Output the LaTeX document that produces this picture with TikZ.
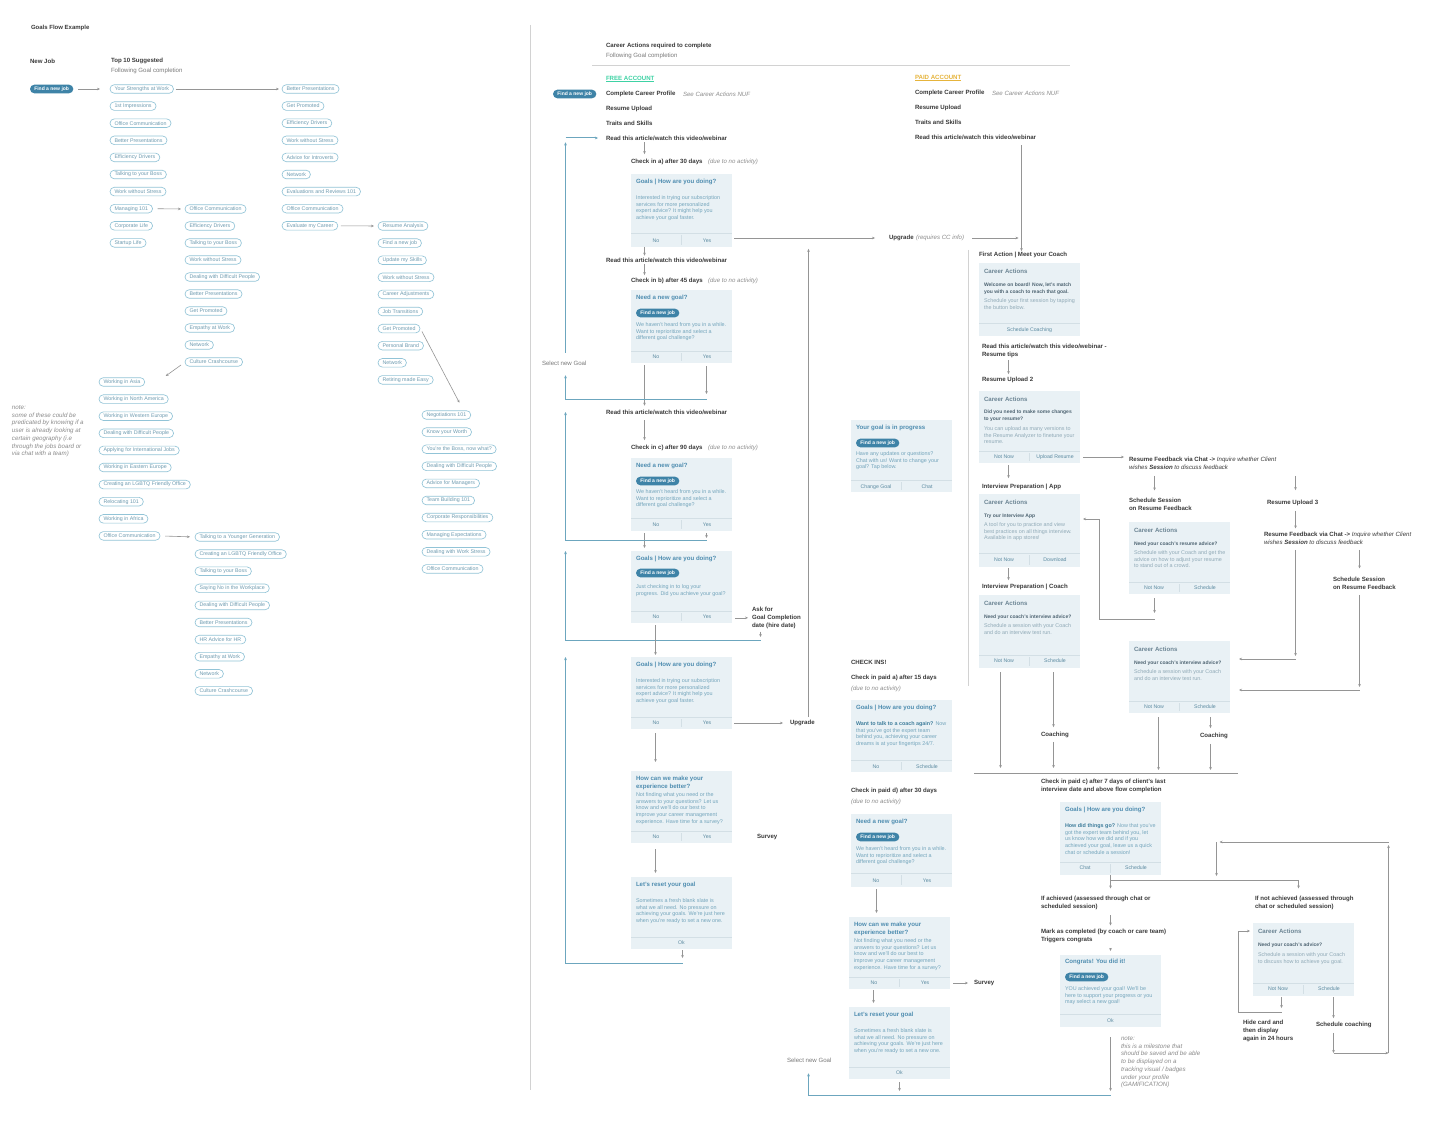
\documentclass[tikz,border=0pt]{standalone}
\usepackage{fontspec}
\setmainfont{Liberation Sans}
\usetikzlibrary{arrows.meta,fit,calc}
\definecolor{cardC}{HTML}{E9F1F5}
\definecolor{divC}{HTML}{D3DFE5}
\definecolor{labC}{HTML}{3A3A3A}
\definecolor{grayT}{HTML}{7A7A7A}
\definecolor{italC}{HTML}{8C8C8C}
\definecolor{titleC}{HTML}{4F8DB0}
\definecolor{bodyC}{HTML}{72A4BB}
\definecolor{tealD}{HTML}{3F7E9C}
\definecolor{pTitleC}{HTML}{6C8594}
\definecolor{pBoldC}{HTML}{4E6472}
\definecolor{pLightC}{HTML}{8FA9B6}
\definecolor{btnC}{HTML}{5B8AA0}
\definecolor{arrC}{HTML}{959595}
\definecolor{loopC}{HTML}{6CA6BE}
\definecolor{pillB}{HTML}{92C4D7}
\definecolor{pillT}{HTML}{6E9BB0}
\definecolor{pillD}{HTML}{3E83A7}
\definecolor{freeC}{HTML}{3ED2A4}
\definecolor{paidC}{HTML}{E6B43C}
\definecolor{sepC}{HTML}{D2D2D2}
\tikzset{
 every node/.style={inner sep=0pt,outer sep=0pt},
 lb/.style={anchor=west,text=labC,font=\fontsize{6.1}{8}\selectfont\bfseries},
 lbm/.style={anchor=north west,align=left,text=labC,font=\fontsize{6.1}{8}\selectfont\bfseries},
 lr/.style={anchor=west,text=grayT,font=\fontsize{6.1}{8}\selectfont},
 li/.style={anchor=west,text=italC,font=\fontsize{6.1}{8}\selectfont\itshape},
 nt/.style={anchor=north west,align=left,text=italC,font=\fontsize{6.2}{7.7}\selectfont\itshape},
 ttl/.style={anchor=west,text=titleC,font=\fontsize{6.1}{7.8}\selectfont\bfseries},
 ttlm/.style={anchor=north west,align=left,text=titleC,font=\fontsize{6.1}{7.8}\selectfont\bfseries},
 pttl/.style={anchor=west,text=pTitleC,font=\fontsize{6.1}{7.8}\selectfont\bfseries},
 bdy/.style={anchor=north west,align=left,text=bodyC,font=\fontsize{5.4}{6.7}\selectfont},
 pbold/.style={anchor=north west,align=left,text=pBoldC,font=\fontsize{5}{6.9}\selectfont\bfseries},
 plight/.style={anchor=north west,align=left,text=pLightC,font=\fontsize{5.4}{6.7}\selectfont},
 btn/.style={text=btnC,font=\fontsize{5.2}{6}\selectfont},
 pill/.style={anchor=west,draw=pillB,line width=0.65pt,rounded corners=4.3pt,minimum height=8.6pt,inner xsep=4.5pt,text=pillT,font=\fontsize{5.3}{6}\selectfont},
 dpill/.style={anchor=west,fill=pillD,rounded corners=4.3pt,minimum height=8.6pt,inner xsep=4.3pt,text=white,font=\fontsize{5}{6}\selectfont\bfseries},
 divl/.style={draw=divC,line width=0.6pt},
 arr/.style={draw=arrC,line width=0.6pt,-{Stealth[length=3pt,width=2.6pt]}},
 line/.style={draw=arrC,line width=0.6pt},
 loopa/.style={draw=loopC,line width=1pt,-{Stealth[length=3.2pt,width=2.8pt]}},
 sepl/.style={draw=sepC,line width=0.9pt},
}
\newcommand\mkcard[5]{%
  \node[fit={(#2,#3)(#2+101,#4)},fill=cardC] (#1) {};
  \draw[divl] (#2,#5) -- (#2+101,#5);}
\newcommand\twobtn[7]{%
  \draw[divl] (#2+50.5,#3+2) -- (#2+50.5,#4-2);
  \node[btn] (#1L) at (#2+25,#5) {#6};
  \node[btn] (#1R) at (#2+76,#5) {#7};}
\newcommand\onebtn[4]{\node[btn] (#1) at (#2+50.5,#3) {#4};}
\begin{document}
\begin{tikzpicture}[x=1pt,y=-1pt]
\useasboundingbox (0,0) rectangle (1450,1131);
\fill[white] (0,0) rectangle (1450,1131);

%% ---------------- left section
\node[lb,font=\fontsize{6}{8}\selectfont\bfseries] (gfe) at (31,28) {Goals Flow Example};
\node[lb] (newjob) at (30,61) {New Job};
\node[lb] (top10) at (111,61) {Top 10 Suggested};
\node[lr] (top10b) at (111,71) {Following Goal completion};
\node[dpill] (fj0) at (30,89) {Find a new job};

\foreach \txt [count=\i] in {Your Strengths at Work,1st Impressions,Office Communication,Better Presentations,Efficiency Drivers,Talking to your Boss,Work without Stress,Managing 101,Corporate Life,Startup Life}
  \node[pill] (pA\i) at (110,{89+(\i-1)*17.1}) {\txt};
\foreach \txt [count=\i] in {Office Communication,Efficiency Drivers,Talking to your Boss,Work without Stress,Dealing with Difficult People,Better Presentations,Get Promoted,Empathy at Work,Network,Culture Crashcourse}
  \node[pill] (pB\i) at (185,{209+(\i-1)*17.0}) {\txt};
\foreach \txt [count=\i] in {Better Presentations,Get Promoted,Efficiency Drivers,Work without Stress,Advice for Introverts,Network,Evaluations and Reviews 101,Office Communication,Evaluate my Career}
  \node[pill] (pC\i) at (282,{89+(\i-1)*17.1}) {\txt};
\foreach \txt [count=\i] in {Resume Analysis,Find a new job,Update my Skills,Work without Stress,Career Adjustments,Job Transitions,Get Promoted,Personal Brand,Network,Retiring made Easy}
  \node[pill] (pD\i) at (378,{226+(\i-1)*17.1}) {\txt};
\foreach \txt [count=\i] in {Working in Asia,Working in North America,Working in Western Europe,Dealing with Difficult People,Applying for International Jobs,Working in Eastern Europe,Creating an LGBTQ Friendly Office,Relocating 101,Working in Africa,Office Communication}
  \node[pill] (pE\i) at (99,{382+(\i-1)*17.1}) {\txt};
\foreach \txt [count=\i] in {Talking to a Younger Generation,Creating an LGBTQ Friendly Office,Talking to your Boss,Saying No in the Workplace,Dealing with Difficult People,Better Presentations,HR Advice for HR,Empathy at Work,Network,Culture Crashcourse}
  \node[pill] (pF\i) at (195,{537+(\i-1)*17.1}) {\txt};
\foreach \txt [count=\i] in {Negotiations 101,Know your Worth,{You're the Boss, now what?},Dealing with Difficult People,Advice for Managers,Team Building 101,Corporate Responsibilities,Managing Expectations,Dealing with Work Stress,Office Communication}
  \node[pill] (pG\i) at (422,{415+(\i-1)*17.1}) {\txt};

\draw[arr,shorten <=5pt,shorten >=10pt] (fj0.east) -- (pA1.west);
\draw[arr,shorten <=2pt,shorten >=3pt] (pA1.east) -- (pC1.west);
\draw[arr,shorten <=5pt,shorten >=4pt] (pA8.east) -- (pB1.west);
\draw[arr,shorten <=3pt,shorten >=4pt] (pC9.east) -- (pD1.west);
\draw[arr,shorten <=5pt,shorten >=5pt] (pE10.east) -- (pF1.west);
\draw[arr] ($(pB10.west)+(-4,3)$) -- ($(pE1.east)+(21,-6)$);
\draw[arr] ($(pD7.east)+(2,3)$) -- ($(pG1.north)+(13,-8)$);

\node[nt] (note1) at (12,405.5) {note:\\some of these could be\\predicated by knowing if a\\user is already looking at\\certain geography (i.e\\through the jobs board or\\via chat with a team)};

\draw[sepl] (530,25) -- (530,1090);

%% ---------------- free account column
\node[lb] (cat) at (606,46) {Career Actions required to complete};
\node[lr] (catb) at (606,56) {Following Goal completion};
\draw[sepl,line width=0.6pt] (592,65) -- (1070,65);
\node[lb,text=freeC] (free) at (606,79) {\underline{FREE ACCOUNT}};
\node[dpill] (fj1) at (553,94) {Find a new job};
\node[lb] (ccp1) at (606,94) {Complete Career Profile};
\node[li] (nuf1) at (683,94) {See Career Actions NUF};
\node[lb] (ru1) at (606,109) {Resume Upload};
\node[lb] (ts1) at (606,123) {Traits and Skills};
\node[lb] (readA) at (606,138) {Read this article/watch this video/webinar};
\node[lb] (checkA) at (631,162) {Check in a) after 30 days};
\node[li] (dueA) at (708,162) {(due to no activity)};

\mkcard{cardA}{631}{174}{247}{233}
\node[ttl] (aT) at (636,182) {Goals | How are you doing?};
\node[bdy] (aB) at (636,195.5) {Interested in trying our subscription\\services for more personalized\\expert advice? It might help you\\achieve your goal faster.};
\twobtn{a}{631}{233}{247}{241}{No}{Yes}

\node[lb] (readB) at (606,260) {Read this article/watch this video/webinar};
\node[lb] (checkB) at (631,281) {Check in b) after 45 days};
\node[li] (dueB) at (708,281) {(due to no activity)};
\mkcard{cardB}{631}{290}{363}{351}
\node[ttl] (bT) at (636,298) {Need a new goal?};
\node[dpill] (bP) at (636,313) {Find a new job};
\node[bdy] (bB) at (636,322.5) {We haven't heard from you in a while.\\Want to reprioritize and select a\\different goal challenge?};
\twobtn{b}{631}{351}{363}{357}{No}{Yes}

\node[lr] (sel1) at (542,363) {Select new Goal};
\node[lb] (readC) at (606,412) {Read this article/watch this video/webinar};
\node[lb] (checkC) at (631,448) {Check in c) after 90 days};
\node[li] (dueC) at (708,448) {(due to no activity)};
\mkcard{cardC}{631}{458}{531}{518}
\node[ttl] (cT) at (636,466) {Need a new goal?};
\node[dpill] (cP) at (636,481) {Find a new job};
\node[bdy] (cB) at (636,489.5) {We haven't heard from you in a while.\\Want to reprioritize and select a\\different goal challenge?};
\twobtn{c}{631}{518}{531}{525}{No}{Yes}

\mkcard{cardD}{631}{551}{623}{611}
\node[ttl] (dT) at (636,559) {Goals | How are you doing?};
\node[dpill] (dP) at (636,573) {Find a new job};
\node[bdy] (dB) at (636,584.5) {Just checking in to log your\\progress. Did you achieve your goal?};
\twobtn{d}{631}{611}{623}{617}{No}{Yes}
\node[lbm] (askfor) at (752,607) {Ask for\\Goal Completion\\date (hire date)};

\mkcard{cardE}{631}{657}{729}{717}
\node[ttl] (eT) at (636,665) {Goals | How are you doing?};
\node[bdy] (eB) at (636,678.5) {Interested in trying our subscription\\services for more personalized\\expert advice? It might help you\\achieve your goal faster.};
\twobtn{e}{631}{717}{729}{723}{No}{Yes}
\node[lb] (upg2) at (790,723) {Upgrade};

\mkcard{cardF}{631}{771}{843}{831}
\node[ttlm] (fT) at (636,776.5) {How can we make your\\experience better?};
\node[bdy] (fB) at (636,792.5) {Not finding what you need or the\\answers to your questions? Let us\\know and we'll do our best to\\improve your career management\\experience. Have time for a survey?};
\twobtn{f}{631}{831}{843}{837}{No}{Yes}
\node[lb] (survey1) at (757,837) {Survey};

\mkcard{cardG}{631}{877}{949}{937}
\node[ttl] (gT) at (636,885) {Let's reset your goal};
\node[bdy] (gB) at (636,898.5) {Sometimes a fresh blank slate is\\what we all need. No pressure on\\achieving your goals. We're just here\\when you're ready to set a new one.};
\onebtn{gOk}{631}{943}{Ok}

\node[lb] (upg) at (889,238) {Upgrade};
\node[li] (upgN) at (916,238) {(requires CC info)};

%% ---------------- paid account column
\node[lb,text=paidC] (paid) at (915,78) {\underline{PAID ACCOUNT}};
\node[lb] (ccp2) at (915,93) {Complete Career Profile};
\node[li] (nuf2) at (992,93) {See Career Actions NUF};
\node[lb] (ru2a) at (915,108) {Resume Upload};
\node[lb] (ts2) at (915,122) {Traits and Skills};
\node[lb] (readP) at (915,137) {Read this article/watch this video/webinar};
\node[lb] (first) at (979,255) {First Action | Meet your Coach};

\mkcard{cardQ1}{979}{263}{336}{323}
\node[pttl] (q1T) at (984,271) {Career Actions};
\node[pbold] (q1B) at (984,282.5) {Welcome on board! Now, let's match\\you with a coach to reach that goal.};
\node[plight] (q1L) at (984,298.5) {Schedule your first session by tapping\\the button below.};
\onebtn{q1btn}{979}{330}{Schedule Coaching}

\node[lbm,font=\fontsize{6.1}{7.3}\selectfont\bfseries] (tips) at (982,344.5) {Read this article/watch this video/webinar -\\Resume tips};
\node[lb] (ru2) at (982,380) {Resume Upload 2};
\mkcard{cardQ2}{979}{391}{463}{451}
\node[pttl] (q2T) at (984,399) {Career Actions};
\node[pbold] (q2B) at (984,409.5) {Did you need to make some changes\\to your resume?};
\node[plight] (q2Li) at (984,426.5) {You can upload as many versions to\\the Resume Analyzer to finetune your\\resume.};
\twobtn{q2}{979}{451}{463}{457}{Not Now}{Upload Resume}

\node[lb] (ipApp) at (982,487) {Interview Preparation | App};
\mkcard{cardQ3}{979}{494}{567}{553}
\node[pttl] (q3T) at (984,502) {Career Actions};
\node[pbold] (q3B) at (984,513.5) {Try our Interview App};
\node[plight] (q3Li) at (984,522.5) {A tool for you to practice and view\\best practices on all things interview.\\Available in app stores!};
\twobtn{q3}{979}{553}{567}{560}{Not Now}{Download}

\node[lb] (ipCoach) at (982,587) {Interview Preparation | Coach};
\mkcard{cardQ4}{979}{595}{668}{655}
\node[pttl] (q4T) at (984,603) {Career Actions};
\node[pbold] (q4B) at (984,614.5) {Need your coach's interview advice?};
\node[plight] (q4Li) at (984,623.5) {Schedule a session with your Coach\\and do an interview test run.};
\twobtn{q4}{979}{655}{668}{661}{Not Now}{Schedule}
\node[lb] (coach1) at (1041,735) {Coaching};

%% ---------------- resume feedback area
\node[lbm] (rf1) at (1129,457.5) {Resume Feedback via Chat -> {\mdseries\itshape Inquire whether Client}\\{\mdseries\itshape wishes} {\itshape Session} {\mdseries\itshape to discuss feedback}};
\node[lbm] (ss1) at (1129,498.5) {Schedule Session\\on Resume Feedback};
\node[lb] (ru3) at (1267,503) {Resume Upload 3};
\node[lbm] (rf2) at (1264,532.5) {Resume Feedback via Chat -> {\mdseries\itshape Inquire whether Client}\\{\mdseries\itshape wishes} {\itshape Session} {\mdseries\itshape to discuss feedback}};
\node[lbm] (ss2) at (1333,577.5) {Schedule Session\\on Resume Feedback};

\mkcard{cardR1}{1129}{522}{594}{582}
\node[pttl] (r1T) at (1134,530) {Career Actions};
\node[pbold] (r1B) at (1134,541.5) {Need your coach's resume advice?};
\node[plight] (r1Li) at (1134,550.5) {Schedule with your Coach and get the\\advice on how to adjust your resume\\to stand out of a crowd.};
\twobtn{r1}{1129}{582}{594}{588}{Not Now}{Schedule}

\mkcard{cardR2}{1129}{641}{713}{701}
\node[pttl] (r2T) at (1134,649) {Career Actions};
\node[pbold] (r2B) at (1134,660.5) {Need your coach's interview advice?};
\node[plight] (r2Li) at (1134,669.5) {Schedule a session with your Coach\\and do an interview test run.};
\twobtn{r2}{1129}{701}{713}{707}{Not Now}{Schedule}
\node[lb] (coach2) at (1200,736) {Coaching};

%% ---------------- completion area
\node[lbm] (pc) at (1041,779.5) {Check in paid c) after 7 days of client's last\\interview date and above flow completion};
\mkcard{cardS5}{1060}{802}{875}{862}
\node[ttl] (s5T) at (1065,810) {Goals | How are you doing?};
\node[bdy] (s5B) at (1065,823.5) {{\bfseries\color{tealD}How did things go?} Now that you've\\got the expert team behind you, let\\us know how we did and if you\\achieved your goal, leave us a quick\\chat or schedule a session!};
\twobtn{s5}{1060}{862}{875}{868}{Chat}{Schedule}

\node[lbm] (ach) at (1041,896.5) {If achieved (assessed through chat or\\scheduled session)};
\node[lbm] (mark) at (1041,929.5) {Mark as completed (by coach or care team)\\Triggers congrats};
\mkcard{cardS6}{1060}{955}{1027}{1014}
\node[ttl] (s6T) at (1065,962) {Congrats! You did it!};
\node[dpill] (s6P) at (1065,977) {Find a new job};
\node[bdy] (s6B) at (1065,986.5) {YOU achieved your goal! We'll be\\here to support your progress or you\\may select a new goal!};
\onebtn{s6Ok}{1060}{1021}{Ok}
\node[nt] (note2) at (1121,1036.5) {note:\\this is a milestone that\\should be saved and be able\\to be displayed on a\\tracking visual / badges\\under your profile\\(GAMIFICATION)};

\node[lbm] (nach) at (1255,896.5) {If not achieved (assessed through\\chat or scheduled session)};
\mkcard{cardS7}{1253}{923}{996}{983}
\node[pttl] (s7T) at (1258,931) {Career Actions};
\node[pbold] (s7B) at (1258,942.5) {Need your coach's advice?};
\node[plight] (s7Li) at (1258,952.5) {Schedule a session with your Coach\\to discuss how to achieve you goal.};
\twobtn{s7}{1253}{983}{996}{989}{Not Now}{Schedule}
\node[lbm] (hide) at (1243,1020.5) {Hide card and\\then display\\again in 24 hours};
\node[lb] (schC) at (1316,1025) {Schedule coaching};

%% ---------------- check-ins (paid)
\mkcard{cardPp}{851}{420}{492}{480}
\node[ttl] (ppT) at (856,428) {Your goal is in progress};
\node[dpill] (ppP) at (856,443) {Find a new job};
\node[bdy] (ppB) at (856,451.5) {Have any updates or questions?\\Chat with us! Want to change your\\goal? Tap below.};
\twobtn{pp}{851}{480}{492}{487}{Change Goal}{Chat}

\node[lb] (chk) at (851,662) {CHECK INS!};
\node[lb] (chkA) at (851,678) {Check in paid a) after 15 days};
\node[li] (dueP1) at (851,689) {(due to no activity)};
\mkcard{cardPa}{851}{700}{772}{760}
\node[ttl] (paT) at (856,708) {Goals | How are you doing?};
\node[bdy] (paB) at (856,721.5) {{\bfseries\color{tealD}Want to talk to a coach again?} Now\\that you've got the expert team\\behind you, achieving your career\\dreams is at your fingertips 24/7.};
\twobtn{pa}{851}{760}{772}{767}{No}{Schedule}

\node[lb] (chkD) at (851,791) {Check in paid d) after 30 days};
\node[li] (dueP2) at (851,802) {(due to no activity)};
\mkcard{cardPd}{851}{814}{887}{873}
\node[ttl] (pdT) at (856,822) {Need a new goal?};
\node[dpill] (pdP) at (856,837) {Find a new job};
\node[bdy] (pdB) at (856,846.5) {We haven't heard from you in a while.\\Want to reprioritize and select a\\different goal challenge?};
\twobtn{pd}{851}{873}{887}{881}{No}{Yes}

\mkcard{cardPf}{849}{917}{989}{977}
\node[ttlm] (pfT) at (854,922.5) {How can we make your\\experience better?};
\node[bdy] (pfB) at (854,938.5) {Not finding what you need or the\\answers to your questions? Let us\\know and we'll do our best to\\improve your career management\\experience. Have time for a survey?};
\twobtn{pf}{849}{977}{989}{983}{No}{Yes}
\node[lb] (survey2) at (974,983) {Survey};

\mkcard{cardPg}{849}{1007}{1079}{1067}
\node[ttl] (pgT) at (854,1015) {Let's reset your goal};
\node[bdy] (pgB) at (854,1028.5) {Sometimes a fresh blank slate is\\what we all need. No pressure on\\achieving your goals. We're just here\\when you're ready to set a new one.};
\onebtn{pgOk}{849}{1073}{Ok}
\node[lr] (sel2) at (787,1060) {Select new Goal};

\draw[sepl] (968.5,250) -- (968.5,686);

%% ---------------- coordinates for connectors
\foreach \v in {644,655,682,706,760,808,873,876,899,1000,1008,1021,1053,1154,1158,1210,1216,1281,1333}
  \coordinate (x\v) at (\v+0.5,0);
\coordinate (L1) at (565.5,399);
\coordinate (L2) at (565.5,540);
\coordinate (L3) at (565.5,640);
\coordinate (L4) at (565.5,963);
\coordinate (L5) at (1295.5,659);
\coordinate (L6) at (1359.5,690);
\coordinate (L7) at (1099.5,619);
\coordinate (L7t) at (1099.5,519);
\coordinate (L8) at (974,773);
\coordinate (L8e) at (1238,773);
\coordinate (L9) at (1110.5,880);
\coordinate (L9e) at (1298.5,880);
\coordinate (L10) at (808.5,1095);
\coordinate (L11) at (1238.5,1012);
\coordinate (L12) at (1388.5,1053);
\coordinate (L13) at (1388.5,842);

%% free flow connectors
\draw[arr,shorten <=2pt,shorten >=5pt] (readA.south -| x644) -- (checkA.north -| x644);
\draw[arr,shorten >=2pt] (cardA.south -| x644) -- (readB.north -| x644);
\draw[arr,shorten <=2pt,shorten >=3pt] (readB.south -| x644) -- (checkB.north -| x644);
\draw[arr,shorten <=2pt,shorten >=14pt] (cardA.east |- upg) -- (upg.west);
\draw[arr,shorten <=8pt,shorten >=3pt] (upgN.east) -- (upgN.east -| x1021);
\draw[arr,shorten <=6pt,shorten >=1pt] (readP.south -| x1021) -- (first.north -| x1021);
\draw[arr,shorten <=3pt,shorten >=8pt] (upg2.north -| x808) -- (upg.south -| x808);
\draw[arr,shorten <=2pt,shorten >=7pt] (cardE.east |- eR) -- (upg2.west);

\draw[arr,shorten <=2pt,shorten >=4pt] (cardB.south -| x644) -- (readC.north -| x644);
\draw[arr,shorten <=3pt,shorten >=5pt] (cardB.south -| x706) -- (L1 -| x706);
\draw[loopa,shorten >=10pt] (L1 -| x706) -- (L1) -- (L1 |- sel1.south);
\draw[loopa,shorten <=8pt,shorten >=2pt] (L1 |- sel1.north) -- (L1 |- readA.south);
\draw[loopa,shorten >=8pt] (L1 |- readA) -- (readA.west);

\draw[arr,shorten <=6pt,shorten >=5pt] (readC.south -| x644) -- (checkC.north -| x644);
\draw[arr,shorten <=2pt,shorten >=3pt] (cardC.south -| x644) -- (cardD.north -| x644);
\draw[arr,shorten <=2pt,shorten >=2pt] (cardC.south -| x706) -- (L2 -| x706);
\draw[loopa] (L2 -| x706) -- (L2) -- (L2 |- readC);
\draw[arr,shorten <=3pt,shorten >=4pt] (cardD.east |- askfor.west) -- (askfor.west);
\draw[arr,shorten <=3pt,shorten >=3pt] (askfor.south -| x760) -- (L3 -| x760);
\draw[loopa] (L3 -| x760) -- (L3) -- (L3 |- cardD.north);
\draw[arr,shorten <=2pt,shorten >=2pt] (cardD.south -| x655) -- (cardE.north -| x655);
\draw[arr,shorten <=4pt,shorten >=9pt] (cardE.south -| x655) -- (cardF.north -| x655);
\draw[arr,shorten <=6pt,shorten >=4pt] (cardF.south -| x655) -- (cardG.north -| x655);
\draw[arr,shorten <=1pt,shorten >=5pt] (cardG.south -| x682) -- (L4 -| x682);
\draw[loopa] (L4 -| x682) -- (L4) -- (L4 |- cardE.north);

%% paid connectors
\draw[arr,shorten <=3pt,shorten >=3pt] (tips.south -| x1008) -- (ru2.north -| x1008);
\draw[arr,shorten <=2pt,shorten >=6pt] (cardQ2.south -| x1008) -- (ipApp.north -| x1008);
\draw[arr,shorten <=1pt,shorten >=4pt] (cardQ3.south -| x1008) -- (ipCoach.north -| x1008);
\draw[arr,shorten <=3pt,shorten >=5pt] (cardQ2.east |- q2R) -- (rf1.west |- q2R);
\draw[arr,shorten <=6pt,shorten >=8pt] (rf1.south -| x1154) -- (ss1.north -| x1154);
\draw[arr,shorten <=6pt,shorten >=10pt] (rf1.south -| L5) -- (ru3.north -| L5);
\draw[arr,shorten <=5pt,shorten >=4pt] (ru3.south -| L5) -- (rf2.north -| L5);
\draw[arr,shorten <=5pt,shorten >=3pt] (rf2.south -| L5) -- (L5);
\draw[arr,shorten >=9pt] (L5) -- (cardR2.east |- L5);
\draw[arr,shorten <=5pt,shorten >=9pt] (rf2.south -| L6) -- (ss2.north -| L6);
\draw[arr,shorten <=5pt,shorten >=3pt] (ss2.south -| L6) -- (L6);
\draw[arr,shorten >=9pt] (L6) -- (cardR2.east |- L6);
\draw[arr,shorten <=4pt,shorten >=6pt] (cardR1.south -| x1154) -- (L7 -| x1154);
\draw[arr,shorten >=3pt] (L7 -| x1154) -- (L7) -- (L7t) -- (cardQ3.east |- L7t);

\draw[arr,shorten <=4pt,shorten >=5pt] (cardQ4.south -| x1000) -- (L8 -| x1000);
\draw[arr,shorten <=4pt,shorten >=5pt] (cardQ4.south -| x1053) -- (coach1.north -| x1053);
\draw[arr,shorten <=4pt,shorten >=5pt] (coach1.south -| x1053) -- (L8 -| x1053);
\draw[line] (L8) -- (L8e);
\draw[arr,shorten <=4pt,shorten >=3pt] (cardR2.south -| x1158) -- (L8 -| x1158);
\draw[arr,shorten <=4pt,shorten >=5pt] (cardR2.south -| x1210) -- (coach2.north -| x1210);
\draw[arr,shorten <=5pt,shorten >=3pt] (coach2.south -| x1210) -- (L8 -| x1210);

%% completion connectors
\draw[line] (cardS5.south -| L9) -- (L9) -- (L9e);
\draw[arr,shorten >=8pt] (L9) -- (ach.north -| L9);
\draw[arr,shorten >=8pt] (L9e) -- (nach.north -| L9e);
\draw[arr,shorten <=5pt,shorten >=4pt] (ach.south -| L9) -- (mark.north -| L9);
\draw[arr,shorten <=5pt,shorten >=4pt] (mark.south -| L9) -- (cardS6.north -| L9);
\draw[arr,shorten <=10pt,shorten >=4pt] (cardS6.south -| L9) -- (L10 -| L9);
\draw[loopa,shorten >=11pt] (L10 -| L9) -- (L10) -- (L10 |- sel2.south);
\draw[arr,shorten <=3pt,shorten >=4pt] (cardPg.south -| x899) -- (L10 -| x899);
\draw[arr,shorten <=1pt,shorten >=4pt] (cardS7.south -| x1281) -- (L11 -| x1281);
\draw[arr,shorten >=3pt] (L11 -| x1281) -- (L11) -- (L11 |- s7T) -- (cardS7.west |- s7T);
\draw[arr,shorten <=1pt,shorten >=4pt] (cardS7.south -| x1333) -- (schC.north -| x1333);
\draw[arr,shorten <=5pt] (schC.south -| x1333) -- (L12 -| x1333);
\draw[arr] (L12 -| x1333) -- (L12);
\draw[arr,shorten >=3pt] (L12) -- (L13);
\draw[arr,shorten >=3pt] (L13) -- (L13 -| x1216);
\draw[arr,shorten >=4pt] (L13 -| x1216) -- (L9 -| x1216);

%% check-in connectors
\draw[arr,shorten <=2pt,shorten >=4pt] (cardPd.south -| x876) -- (cardPf.north -| x876);
\draw[arr,shorten <=3pt,shorten >=6pt] (cardPf.east |- pfR) -- (survey2.west);
\draw[arr,shorten <=1pt,shorten >=4pt] (cardPf.south -| x873) -- (cardPg.north -| x873);
\end{tikzpicture}
\end{document}
